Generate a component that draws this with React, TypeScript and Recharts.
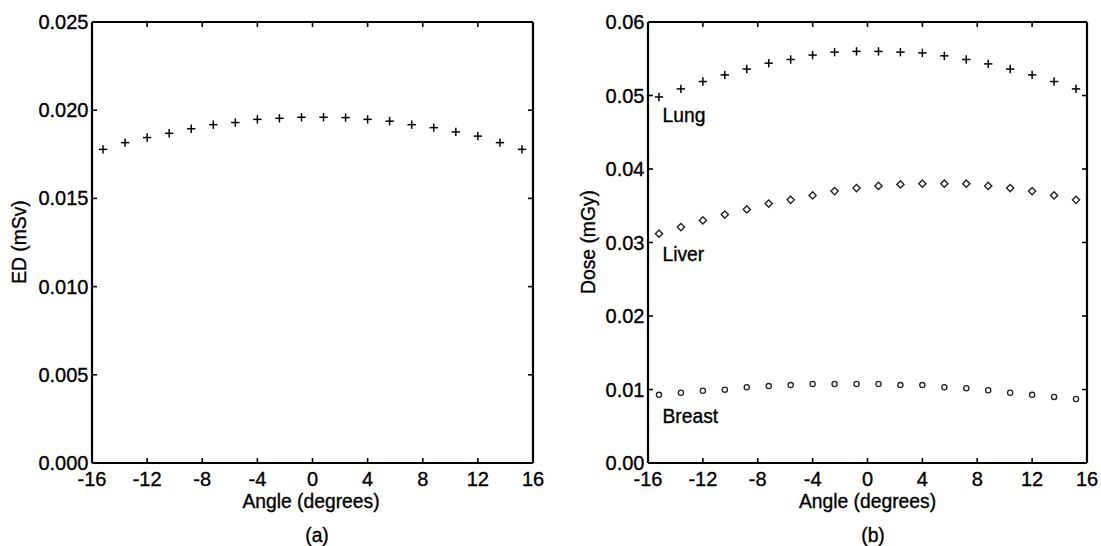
import React from 'react';
import { ScatterChart, Scatter, XAxis, YAxis } from 'recharts';

const angles = [-15.2, -13.6, -12.0, -10.4, -8.8, -7.2, -5.6, -4.0, -2.4, -0.8, 0.8, 2.4, 4.0, 5.6, 7.2, 8.8, 10.4, 12.0, 13.6, 15.2];
const edValues = [0.01778, 0.01816, 0.01845, 0.01869, 0.01895, 0.01918, 0.0193, 0.01948, 0.01954, 0.0196, 0.0196, 0.01958, 0.01948, 0.01938, 0.01918, 0.01901, 0.01877, 0.01853, 0.01816, 0.01778];
const lungValues = [0.0498, 0.0509, 0.0519, 0.0528, 0.0536, 0.0544, 0.0549, 0.0555, 0.0559, 0.056, 0.056, 0.0559, 0.0558, 0.0554, 0.0549, 0.0543, 0.0536, 0.0528, 0.0519, 0.0509];
const liverValues = [0.0312, 0.0321, 0.033, 0.0338, 0.0345, 0.0353, 0.0358, 0.0364, 0.037, 0.0374, 0.0377, 0.0379, 0.038, 0.038, 0.038, 0.0377, 0.0374, 0.037, 0.0364, 0.0358];
const breastValues = [0.00927, 0.00956, 0.00984, 0.00998, 0.01031, 0.01046, 0.0106, 0.01074, 0.01074, 0.01074, 0.01074, 0.0106, 0.0106, 0.01031, 0.01017, 0.00989, 0.00956, 0.00927, 0.00899, 0.00871];

const xTicks = [-16, -12, -8, -4, 0, 4, 8, 12, 16];
const edTicks = [0, 0.005, 0.01, 0.015, 0.02, 0.025];
const doseTicks = [0, 0.01, 0.02, 0.03, 0.04, 0.05, 0.06];

const seriesNames = ['Lung', 'Liver', 'Breast'];
const xTitle = 'Angle (degrees)';
const edTitle = 'ED (mSv)';
const doseTitle = 'Dose (mGy)';
const panelLabels = ['(a)', '(b)'];

const toData = (vals: number[]) => angles.map((a, i) => ({ x: a, y: vals[i] }));
const edData = toData(edValues);
const lungData = toData(lungValues);
const liverData = toData(liverValues);
const breastData = toData(breastValues);

// styling only
const FONT = '"Liberation Sans", Arial, Helvetica, sans-serif';
const TICK = 5;
const TICK_FS = 20;
const TITLE_FS = 19.3;
const TEXT_STROKE = 0.35;
const labelDy: Record<string, number> = { Lung: 25, Liver: 27, Breast: 28.5 };

const XTickBottom = (props: any) => {
  const { x, y, payload } = props;
  return (
    <g>
      <line x1={x} y1={y} x2={x} y2={y - TICK} stroke="#000" strokeWidth={1.6} />
      <text x={x} y={y + 16} textAnchor="middle" dominantBaseline="central" fontSize={TICK_FS} fontFamily={FONT}
        fill="#000" stroke="#000" strokeWidth={TEXT_STROKE}>
        {payload.value}
      </text>
    </g>
  );
};
const XTickTop = (props: any) => {
  const { x, y } = props;
  return <line x1={x} y1={y} x2={x} y2={y + TICK} stroke="#000" strokeWidth={1.6} />;
};
const makeYTickLeft = (dec: number) => (props: any) => {
  const { x, y, payload } = props;
  return (
    <g>
      <line x1={x} y1={y} x2={x + TICK} y2={y} stroke="#000" strokeWidth={1.6} />
      <text x={x - 3.5} y={y} textAnchor="end" dominantBaseline="central" fontSize={TICK_FS} fontFamily={FONT}
        fill="#000" stroke="#000" strokeWidth={TEXT_STROKE}>
        {Number(payload.value).toFixed(dec)}
      </text>
    </g>
  );
};
const YTickRight = (props: any) => {
  const { x, y } = props;
  return <line x1={x} y1={y} x2={x - TICK} y2={y} stroke="#000" strokeWidth={1.6} />;
};

const seriesLabel = (name: string | undefined, cx: number, cy: number, payload: any) =>
  name && payload && payload.x === angles[0] ? (
    <text x={cx + 3.5} y={cy + labelDy[name]} fontSize={TITLE_FS} fontFamily={FONT} fill="#000" stroke="#000" strokeWidth={TEXT_STROKE}>
      {name}
    </text>
  ) : null;

const plusShape = (name?: string) => (props: any) => {
  const { cx, cy, payload } = props;
  const s = 4.2;
  return (
    <g>
      <line x1={cx - s} y1={cy} x2={cx + s} y2={cy} stroke="#000" strokeWidth={1.5} />
      <line x1={cx} y1={cy - s} x2={cx} y2={cy + s} stroke="#000" strokeWidth={1.5} />
      {seriesLabel(name, cx, cy, payload)}
    </g>
  );
};
const diamondShape = (name?: string) => (props: any) => {
  const { cx, cy, payload } = props;
  const s = 3.6;
  return (
    <g>
      <polygon points={`${cx},${cy - s} ${cx + s},${cy} ${cx},${cy + s} ${cx - s},${cy}`} fill="none" stroke="#222" strokeWidth={1.4} />
      {seriesLabel(name, cx, cy, payload)}
    </g>
  );
};
const circleShape = (name?: string) => (props: any) => {
  const { cx, cy, payload } = props;
  return (
    <g>
      <circle cx={cx} cy={cy} r={2.6} fill="none" stroke="#222" strokeWidth={1.3} />
      {seriesLabel(name, cx, cy, payload)}
    </g>
  );
};

const axisLine = { stroke: '#000', strokeWidth: 2.2 };

const Frame = ({ yTicks, yDomain, dec, leftW, rightW }: any) => [
  <XAxis key="xb" xAxisId="b" type="number" dataKey="x" domain={[-16, 16]} ticks={xTicks} orientation="bottom" height={83}
    tickSize={0} tickMargin={0} tickLine={false} axisLine={axisLine} tick={<XTickBottom />} interval={0} allowDataOverflow />,
  <XAxis key="xt" xAxisId="t" type="number" dataKey="x" domain={[-16, 16]} ticks={xTicks} orientation="top" height={22}
    tickSize={0} tickMargin={0} tickLine={false} axisLine={axisLine} tick={<XTickTop />} interval={0} allowDataOverflow />,
  <YAxis key="yl" yAxisId="l" type="number" dataKey="y" domain={yDomain} ticks={yTicks} orientation="left" width={leftW}
    tickSize={0} tickMargin={0} tickLine={false} axisLine={axisLine} tick={makeYTickLeft(dec)} interval={0} allowDataOverflow />,
  <YAxis key="yr" yAxisId="r" type="number" dataKey="y" domain={yDomain} ticks={yTicks} orientation="right" width={rightW}
    tickSize={0} tickMargin={0} tickLine={false} axisLine={axisLine} tick={<YTickRight />} interval={0} allowDataOverflow />,
];

const textStyle: React.CSSProperties = {
  position: 'absolute',
  fontFamily: FONT,
  fontSize: TITLE_FS,
  color: '#000',
  whiteSpace: 'nowrap',
  lineHeight: 1,
  WebkitTextStroke: `${TEXT_STROKE}px #000`,
};

const Centered = ({ x, y, rotate, children }: any) => (
  <div style={{ ...textStyle, left: x, top: y, transform: `translate(-50%, -50%)${rotate ? ' rotate(-90deg)' : ''}` }}>{children}</div>
);

export default function App() {
  return (
    <div style={{ position: 'absolute', left: 0, top: 0, width: 1101, height: 546, background: '#fff', overflow: 'hidden' }}>
      <div style={{ position: 'absolute', left: 0, top: 0 }}>
        <ScatterChart width={550} height={546} margin={{ top: 0, right: 0, bottom: 0, left: 0 }}>
          {Frame({ yTicks: edTicks, yDomain: [0, 0.025], dec: 3, leftW: 92, rightW: 17 })}
          <Scatter data={edData} xAxisId="b" yAxisId="l" shape={plusShape()} isAnimationActive={false} />
          <Scatter data={edData} xAxisId="t" yAxisId="r" shape={() => <g />} isAnimationActive={false} />
        </ScatterChart>
      </div>
      <div style={{ position: 'absolute', left: 550, top: 0 }}>
        <ScatterChart width={551} height={546} margin={{ top: 0, right: 0, bottom: 0, left: 0 }}>
          {Frame({ yTicks: doseTicks, yDomain: [0, 0.06], dec: 2, leftW: 98, rightW: 14 })}
          <Scatter data={lungData} xAxisId="b" yAxisId="l" shape={plusShape(seriesNames[0])} isAnimationActive={false} />
          <Scatter data={liverData} xAxisId="b" yAxisId="l" shape={diamondShape(seriesNames[1])} isAnimationActive={false} />
          <Scatter data={breastData} xAxisId="b" yAxisId="l" shape={circleShape(seriesNames[2])} isAnimationActive={false} />
          <Scatter data={lungData} xAxisId="t" yAxisId="r" shape={() => <g />} isAnimationActive={false} />
        </ScatterChart>
      </div>
      <Centered x={19.5} y={242} rotate>{edTitle}</Centered>
      <Centered x={588.5} y={242} rotate>{doseTitle}</Centered>
      <Centered x={311} y={502}>{xTitle}</Centered>
      <Centered x={867.5} y={502}>{xTitle}</Centered>
      <Centered x={317} y={536}>{panelLabels[0]}</Centered>
      <Centered x={873} y={536}>{panelLabels[1]}</Centered>
    </div>
  );
}
